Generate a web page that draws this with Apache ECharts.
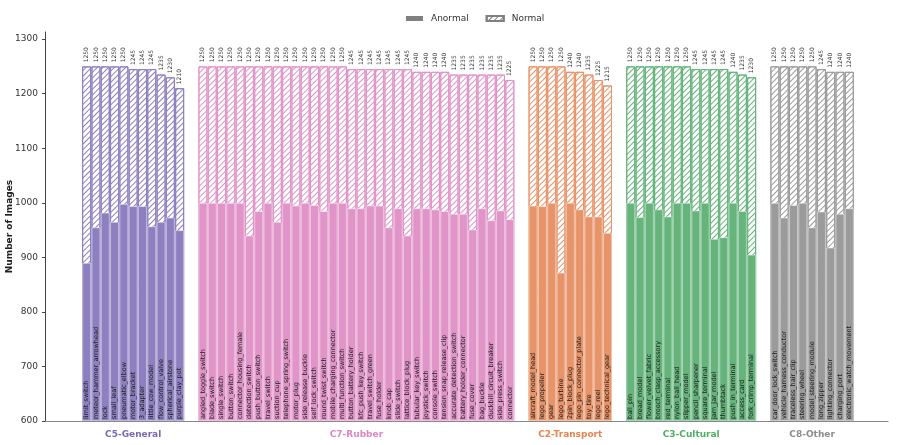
<!DOCTYPE html>
<html><head><meta charset="utf-8">
<script src="https://cdn.jsdelivr.net/npm/echarts@6/dist/echarts.min.js"></script>
<style>html,body{margin:0;padding:0;background:#fff}#c{width:897px;height:445px}</style>
</head><body><div id="c"></div>
<script>
// ---- data ----
const groupNames = ['C5-General', 'C7-Rubber', 'C2-Transport', 'C3-Cultural', 'C8-Other'];

const c5Names = ['limit_switch','meteor_hammer_arrowhead','lock','small_leaf','pneumatic_elbow','motor_bracket','3_adapter','little_cow_model','flow_control_valve','spherical_airstone','purple_clay_pot'];
const c5Total = [1250,1250,1250,1250,1250,1245,1245,1245,1235,1230,1210];
const c5Anormal = [890,955,982,965,998,994,994,957,965,973,950];

const c7Names = ['angled_toggle_switch','blade_switch','single_switch','button_switch','connector_housing_female','detection_switch','push_button_switch','travel_switch','suction_cup','telephone_spring_switch','motor_plug','side_release_buckle','self_lock_switch','round_twist_switch','mobile_charging_connector','multi_function_switch','button_battery_holder','kfc_push_key_switch','travel_switch_green','fuse_holder','knob_cap','slide_switch','lattice_block_plug','tubular_key_switch','joystick_switch','console_switch','tension_snap_release_clip','accurate_detection_switch','battery_holder_connector','fuse_cover','bag_buckle','duckbill_circuit_breaker','side_press_switch','connector'];
const c7Total = [1250,1250,1250,1250,1250,1250,1250,1250,1250,1250,1250,1250,1250,1250,1250,1250,1245,1245,1245,1245,1245,1245,1245,1240,1240,1240,1240,1235,1235,1235,1235,1235,1235,1225];
const c7Anormal = [1000,1000,1000,1000,1000,940,985,1000,965,1000,995,1000,996,985,1000,1000,990,990,995,995,955,990,940,990,990,988,985,980,980,951,990,968,986,970];

const c2Names = ['aircraft_model_head','lego_propeller','gear','lego_turbine','2pin_block_plug','lego_pin_connector_plate','toy_tire','lego_reel','lego_technical_gear'];
const c2Total = [1250,1250,1250,1250,1240,1240,1235,1225,1215];
const c2Anormal = [995,994,1000,872,1000,988,975,975,945];

const c3Names = ['ball_pin','bread_model','flower_velvet_fabric','brooch_clasp_accessory','red_terminal','nylon_ball_head','slipper_model','pencil_sharpener','square_terminal','jam_jar_model','thumbtack','push_in_terminal','access_card','fork_crimp_terminal'];
const c3Total = [1250,1250,1250,1250,1250,1250,1250,1245,1245,1245,1245,1240,1235,1230];
const c3Anormal = [1000,974,1000,988,975,1000,1000,986,1000,934,937,1000,985,905];

const c8Names = ['car_door_lock_switch','vehicle_harness_conductor','traceless_hair_clip','steering_wheel','model_steering_module','long_zipper','lighting_connector','charging_port','electronic_watch_movement'];
const c8Total = [1250,1250,1250,1250,1250,1245,1240,1240,1240];
const c8Anormal = [1000,973,996,1000,955,984,918,980,990];

const yTicks = [600,700,800,900,1000,1100,1200,1300];
const seriesNames = ['Anormal','Normal'];

// ---- styles ----
const groupColors = ['#8e80c0','#e094c8','#e8946a','#66b47c','#9b9b9b'];
const groupTextColors = ['#7a68b6','#de86c3','#e8844f','#4fae63','#8c8c8c'];
const FONT = 'DejaVu Sans';
const GAP = 1.5;

const groups = [
  [c5Names, c5Total, c5Anormal],
  [c7Names, c7Total, c7Anormal],
  [c2Names, c2Total, c2Anormal],
  [c3Names, c3Total, c3Anormal],
  [c8Names, c8Total, c8Anormal]
];

function hatch(color) {
  return { symbol: 'rect', symbolSize: 1, dashArrayX: [1, 0], dashArrayY: [1, 3], rotation: -Math.PI / 4, color: color, backgroundColor: 'rgba(0,0,0,0)' };
}

// The "Normal" part is drawn as a hatched bar up to the total, and the
// solid "Anormal" bar is drawn over it from the same baseline.
const anData = [], totData = [], centers = [];
let pos = 0;
groups.forEach(([names, totals, anormal], gi) => {
  const start = pos;
  names.forEach((n, i) => {
    anData.push({ name: n, value: [pos, anormal[i]],
      itemStyle: { color: groupColors[gi], borderColor: 'rgba(255,255,255,0.45)', borderWidth: 1 } });
    totData.push({ name: n, value: [pos, totals[i]],
      itemStyle: { color: '#fff', borderColor: groupColors[gi], borderWidth: 1, decal: hatch(groupColors[gi]) } });
    pos += 1;
  });
  centers.push((start + pos - 1) / 2);
  pos += GAP;
});
const lastX = pos - GAP - 1;

const rich = {};
groupTextColors.forEach((c, i) => { rich['g' + i] = { color: c, fontSize: 9, fontWeight: 'bold', fontFamily: FONT }; });

const chart = echarts.init(document.getElementById('c'), null, { renderer: 'canvas' });
chart.setOption({
  animation: false,
  backgroundColor: '#fff',
  textStyle: { fontFamily: FONT },
  legend: {
    data: seriesNames, top: 9, left: 401, icon: 'rect', itemWidth: 17, itemHeight: 5, itemGap: 17,
    textStyle: { fontSize: 9, color: '#333', fontFamily: FONT, padding: [0, 0, 0, 3] }
  },
  grid: { left: 45, right: 9, top: 32, bottom: 24, containLabel: false, outerBoundsMode: 'none' },
  xAxis: {
    type: 'value', min: -4.48, max: lastX + 4.16,
    axisLine: { show: true, onZero: false, lineStyle: { color: '#888', width: 1.2 } },
    axisTick: { show: false }, splitLine: { show: false },
    axisLabel: {
      customValues: centers, margin: 9,
      formatter: v => { const i = centers.indexOf(v); return i < 0 ? '' : '{g' + i + '|' + groupNames[i] + '}'; },
      rich: rich
    }
  },
  yAxis: {
    type: 'value', min: 600, max: 1313, startValue: 600,
    name: 'Number of Images', nameLocation: 'middle', nameGap: 31, nameMoveOverlap: false,
    nameTextStyle: { fontSize: 9, fontWeight: 'bold', color: '#222', fontFamily: FONT },
    axisLine: { show: true, onZero: false, lineStyle: { color: '#444', width: 1 } },
    axisTick: { show: true, length: 3, customValues: yTicks, lineStyle: { color: '#444' } },
    axisLabel: { customValues: yTicks, fontSize: 9, color: '#333', margin: 7, fontFamily: FONT, formatter: v => String(v) },
    splitLine: { show: false }
  },
  series: [
    { name: 'Normal', type: 'bar', barWidth: 9, barGap: '-100%', data: totData,
      itemStyle: { color: '#fff', borderColor: '#808080', borderWidth: 1, decal: hatch('#808080') },
      label: { show: true, position: 'top', rotate: 90, align: 'left', verticalAlign: 'middle',
        distance: 4, formatter: p => p.value[1], fontSize: 6, color: '#333', fontFamily: FONT } },
    { name: 'Anormal', type: 'bar', barWidth: 9, barGap: '-100%', data: anData,
      itemStyle: { color: '#808080' },
      label: { show: true, position: 'insideBottom', rotate: 90, align: 'left', verticalAlign: 'middle',
        distance: 2, formatter: '{b}', fontSize: 6.5, color: '#1a1a1a', fontFamily: FONT } }
  ]
});
</script></body></html>
